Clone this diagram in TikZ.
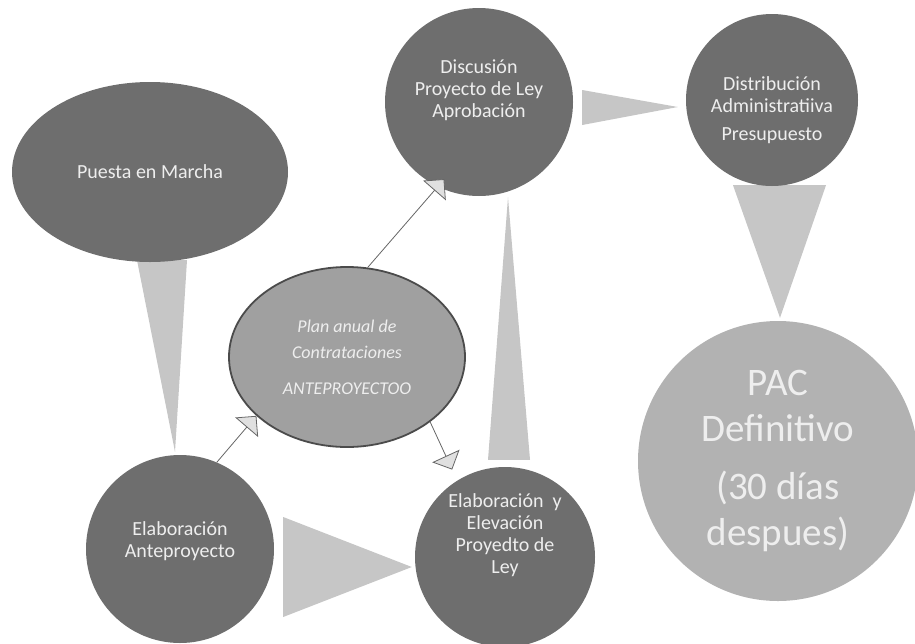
\documentclass[tikz,border=0pt]{standalone}
\usepackage{fontspec}
\setmainfont{Carlito}
\usepackage{xcolor}
\usepackage{tikz}
\usetikzlibrary{shapes.geometric,arrows.meta,backgrounds,calc}

\definecolor{bolagris}{RGB}{110,110,110}
\definecolor{conogris}{RGB}{198,198,198}
\definecolor{plangris}{RGB}{160,160,160}
\definecolor{pacgris}{RGB}{178,178,178}
\definecolor{bordegris}{RGB}{75,75,75}
\definecolor{letragris}{RGB}{238,238,238}

\tikzset{
  bola/.style={circle,fill=bolagris,inner sep=0pt},
  texto/.style={text=letragris,align=center,font=\fontsize{20}{22}\selectfont},
  cono/.style={fill=conogris},
  flecha/.style={draw=bordegris!85,line width=0.8pt,
    -{Triangle[width=30pt,length=15pt,fill=conogris!55,color=bordegris!85]}}
}

\begin{document}
\begin{tikzpicture}[x=1pt,y=-1pt]
	\useasboundingbox (0,0) rectangle (915,643);
	\node[bola,ellipse,minimum width=276pt,minimum height=180pt,
		label={[texto]center:Puesta en Marcha}] (puesta) at (150,172) {};
	\node[bola,minimum size=188pt,
		label={[texto,yshift=12pt]center:{Discusión\\Proyecto de Ley\\Aprobación}}] (disc) at (479,102) {};
	\node[bola,minimum size=172pt,
		label={[texto,yshift=-10pt]center:{Distribución\\Administratiiva\\[6pt]Presupuesto}}] (dist) at (772,100) {};
	\node[bola,ellipse,fill=plangris,draw=bordegris,line width=1.8pt,minimum width=236pt,minimum height=180pt,
		label={[texto,font=\fontsize{18}{26}\selectfont\itshape]center:{Plan anual de\\Contrataciones\\[10pt]ANTEPROYECTOO}}] (plan) at (347,357) {};
	\node[bola,minimum size=188pt,
		label={[texto,yshift=8pt]center:{Elaboración\\Anteproyecto}}] (elab) at (180,549) {};
	\node[bola,minimum size=180pt,
		label={[texto,yshift=22pt]center:{Elaboración~ y\\Elevación\\Proyedto de\\Ley}}] (elev) at (505,557) {};
	\node[bola,fill=pacgris,minimum size=280pt,
		label={[texto,font=\fontsize{39}{46}\selectfont]center:{PAC\\Definitivo\\[12pt](30 días\\despues)}}] (pac) at (778,461) {};
	\begin{scope}[on background layer]
		\fill[cono] ($(puesta.south)+(-13,-2)$) -- ($(puesta.south)+(37,-2)$) -- ($(elab.north)+(-5,-3)$) -- cycle;
		\fill[cono] ($(elab.east)+(9,-32)$) -- ($(elab.east)+(9,68)$) -- ($(elev.west)+(-3,10)$) -- cycle;
		\fill[cono] ($(elev.north)+(-17,-7)$) -- ($(elev.north)+(25,-7)$) -- ($(disc.south)+(29,1)$) -- cycle;
		\fill[cono] ($(disc.east)+(9,-12)$) -- ($(disc.east)+(9,23)$) -- ($(dist.west)+(-8,7)$) -- cycle;
		\fill[cono] ($(dist.south)+(-39,-1)$) -- ($(dist.south)+(54,-1)$) -- ($(pac.north)+(2,-3)$) -- cycle;
	\end{scope}
	\draw[flecha] (elab.67) -- (plan.213);
	\draw[flecha,shorten >=-10pt] (plan.77) -- (disc.244);
	\draw[flecha,shorten >=12pt] (plan.322) -- (elev.122);
\end{tikzpicture}
\end{document}
